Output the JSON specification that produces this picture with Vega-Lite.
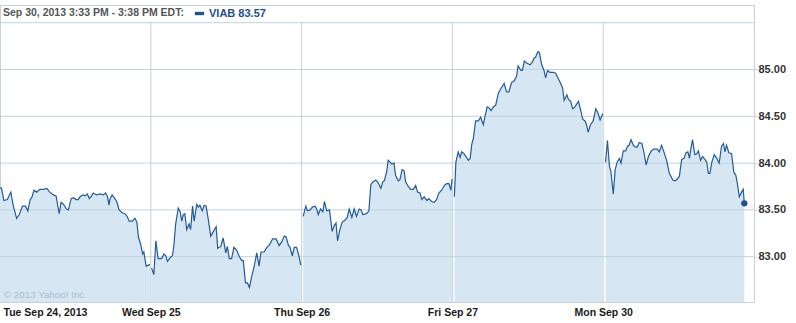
{
  "$schema": "https://vega.github.io/schema/vega-lite/v6.json",
  "width": 754,
  "height": 297,
  "autosize": {"type": "none"},
  "padding": {"left": 0, "top": 5, "right": 42, "bottom": 21},
  "background": "white",
  "config": {"view": {"stroke": "#c5d1db", "strokeWidth": 1}, "font": "Liberation Sans"},
  "datasets": {
    "gx": [{"t": 390}, {"t": 780}, {"t": 1170}, {"t": 1560}],
    "gy": [{"p": 83}, {"p": 83.5}, {"p": 84}, {"p": 84.5}, {"p": 85}, {"p": 85.5}],
    "px": [
      {"d":1,"t":0,"p":83.74},{"d":1,"t":4,"p":83.73},{"d":1,"t":10,"p":83.60},{"d":1,"t":19,"p":83.61},{"d":1,"t":28,"p":83.69},{"d":1,"t":34,"p":83.55},{"d":1,"t":43,"p":83.41},{"d":1,"t":50,"p":83.45},{"d":1,"t":58,"p":83.54},{"d":1,"t":66,"p":83.54},{"d":1,"t":72,"p":83.49},{"d":1,"t":78,"p":83.61},{"d":1,"t":82,"p":83.63},{"d":1,"t":88,"p":83.71},{"d":1,"t":95,"p":83.69},{"d":1,"t":103,"p":83.72},{"d":1,"t":112,"p":83.72},{"d":1,"t":121,"p":83.73},{"d":1,"t":129,"p":83.69},{"d":1,"t":138,"p":83.66},{"d":1,"t":145,"p":83.65},{"d":1,"t":153,"p":83.46},{"d":1,"t":158,"p":83.58},{"d":1,"t":164,"p":83.56},{"d":1,"t":172,"p":83.51},{"d":1,"t":177,"p":83.50},{"d":1,"t":184,"p":83.62},{"d":1,"t":190,"p":83.63},{"d":1,"t":197,"p":83.61},{"d":1,"t":202,"p":83.61},{"d":1,"t":207,"p":83.64},{"d":1,"t":214,"p":83.66},{"d":1,"t":220,"p":83.65},{"d":1,"t":226,"p":83.67},{"d":1,"t":231,"p":83.62},{"d":1,"t":237,"p":83.65},{"d":1,"t":241,"p":83.68},{"d":1,"t":250,"p":83.66},{"d":1,"t":259,"p":83.67},{"d":1,"t":267,"p":83.66},{"d":1,"t":273,"p":83.68},{"d":1,"t":278,"p":83.64},{"d":1,"t":282,"p":83.55},{"d":1,"t":284,"p":83.61},{"d":1,"t":290,"p":83.66},{"d":1,"t":297,"p":83.62},{"d":1,"t":302,"p":83.59},{"d":1,"t":308,"p":83.50},{"d":1,"t":316,"p":83.47},{"d":1,"t":323,"p":83.46},{"d":1,"t":329,"p":83.43},{"d":1,"t":334,"p":83.38},{"d":1,"t":342,"p":83.38},{"d":1,"t":349,"p":83.41},{"d":1,"t":354,"p":83.37},{"d":1,"t":358,"p":83.21},{"d":1,"t":364,"p":83.13},{"d":1,"t":369,"p":83.03},{"d":1,"t":372,"p":83.05},{"d":1,"t":378,"p":82.90},{"d":1,"t":384,"p":82.91},{"d":1,"t":388,"p":82.92},
      {"d":2,"t":392,"p":82.88},{"d":2,"t":398,"p":82.81},{"d":2,"t":403,"p":83.17},{"d":2,"t":409,"p":82.98},{"d":2,"t":418,"p":82.98},{"d":2,"t":424,"p":83.03},{"d":2,"t":429,"p":83.01},{"d":2,"t":433,"p":82.95},{"d":2,"t":440,"p":82.99},{"d":2,"t":446,"p":83.01},{"d":2,"t":450,"p":83.13},{"d":2,"t":454,"p":83.34},{"d":2,"t":461,"p":83.52},{"d":2,"t":466,"p":83.48},{"d":2,"t":470,"p":83.38},{"d":2,"t":474,"p":83.45},{"d":2,"t":478,"p":83.46},{"d":2,"t":483,"p":83.29},{"d":2,"t":489,"p":83.35},{"d":2,"t":493,"p":83.29},{"d":2,"t":498,"p":83.54},{"d":2,"t":502,"p":83.38},{"d":2,"t":509,"p":83.56},{"d":2,"t":513,"p":83.53},{"d":2,"t":517,"p":83.55},{"d":2,"t":523,"p":83.49},{"d":2,"t":528,"p":83.55},{"d":2,"t":533,"p":83.54},{"d":2,"t":539,"p":83.39},{"d":2,"t":545,"p":83.22},{"d":2,"t":552,"p":83.27},{"d":2,"t":559,"p":83.32},{"d":2,"t":563,"p":83.09},{"d":2,"t":571,"p":83.11},{"d":2,"t":577,"p":83.20},{"d":2,"t":584,"p":83.04},{"d":2,"t":588,"p":83.11},{"d":2,"t":593,"p":82.98},{"d":2,"t":599,"p":82.98},{"d":2,"t":605,"p":83.10},{"d":2,"t":612,"p":83.07},{"d":2,"t":619,"p":83.00},{"d":2,"t":625,"p":82.96},{"d":2,"t":629,"p":82.96},{"d":2,"t":635,"p":82.72},{"d":2,"t":640,"p":82.72},{"d":2,"t":645,"p":82.67},{"d":2,"t":651,"p":82.79},{"d":2,"t":657,"p":82.89},{"d":2,"t":664,"p":83.04},{"d":2,"t":670,"p":82.90},{"d":2,"t":675,"p":83.05},{"d":2,"t":683,"p":83.05},{"d":2,"t":690,"p":83.10},{"d":2,"t":696,"p":83.12},{"d":2,"t":705,"p":83.19},{"d":2,"t":714,"p":83.19},{"d":2,"t":722,"p":83.12},{"d":2,"t":729,"p":83.16},{"d":2,"t":735,"p":83.22},{"d":2,"t":740,"p":83.21},{"d":2,"t":746,"p":83.12},{"d":2,"t":750,"p":83.10},{"d":2,"t":756,"p":83.01},{"d":2,"t":761,"p":83.10},{"d":2,"t":767,"p":83.10},{"d":2,"t":773,"p":83.01},{"d":2,"t":778,"p":82.91},
      {"d":3,"t":784,"p":83.43},{"d":3,"t":791,"p":83.54},{"d":3,"t":795,"p":83.49},{"d":3,"t":802,"p":83.50},{"d":3,"t":808,"p":83.53},{"d":3,"t":815,"p":83.54},{"d":3,"t":819,"p":83.51},{"d":3,"t":823,"p":83.45},{"d":3,"t":829,"p":83.51},{"d":3,"t":835,"p":83.48},{"d":3,"t":839,"p":83.59},{"d":3,"t":845,"p":83.49},{"d":3,"t":852,"p":83.50},{"d":3,"t":859,"p":83.27},{"d":3,"t":864,"p":83.33},{"d":3,"t":869,"p":83.36},{"d":3,"t":873,"p":83.17},{"d":3,"t":879,"p":83.29},{"d":3,"t":885,"p":83.37},{"d":3,"t":892,"p":83.39},{"d":3,"t":898,"p":83.42},{"d":3,"t":903,"p":83.51},{"d":3,"t":910,"p":83.42},{"d":3,"t":916,"p":83.51},{"d":3,"t":922,"p":83.43},{"d":3,"t":929,"p":83.51},{"d":3,"t":934,"p":83.50},{"d":3,"t":938,"p":83.45},{"d":3,"t":948,"p":83.46},{"d":3,"t":954,"p":83.49},{"d":3,"t":959,"p":83.77},{"d":3,"t":965,"p":83.80},{"d":3,"t":972,"p":83.82},{"d":3,"t":978,"p":83.79},{"d":3,"t":985,"p":83.73},{"d":3,"t":990,"p":83.80},{"d":3,"t":994,"p":83.81},{"d":3,"t":1000,"p":83.91},{"d":3,"t":1004,"p":84.03},{"d":3,"t":1009,"p":84.01},{"d":3,"t":1013,"p":83.99},{"d":3,"t":1019,"p":84.00},{"d":3,"t":1023,"p":83.87},{"d":3,"t":1030,"p":83.81},{"d":3,"t":1034,"p":83.82},{"d":3,"t":1040,"p":83.93},{"d":3,"t":1045,"p":83.92},{"d":3,"t":1049,"p":83.80},{"d":3,"t":1056,"p":83.75},{"d":3,"t":1062,"p":83.72},{"d":3,"t":1069,"p":83.72},{"d":3,"t":1075,"p":83.76},{"d":3,"t":1080,"p":83.69},{"d":3,"t":1086,"p":83.68},{"d":3,"t":1091,"p":83.61},{"d":3,"t":1097,"p":83.64},{"d":3,"t":1104,"p":83.60},{"d":3,"t":1109,"p":83.62},{"d":3,"t":1116,"p":83.59},{"d":3,"t":1123,"p":83.58},{"d":3,"t":1129,"p":83.61},{"d":3,"t":1135,"p":83.68},{"d":3,"t":1142,"p":83.71},{"d":3,"t":1149,"p":83.76},{"d":3,"t":1155,"p":83.78},{"d":3,"t":1161,"p":83.78},{"d":3,"t":1166,"p":83.71},{"d":3,"t":1169,"p":83.83},
      {"d":4,"t":1175,"p":83.64},{"d":4,"t":1179,"p":84.01},{"d":4,"t":1185,"p":84.12},{"d":4,"t":1190,"p":84.06},{"d":4,"t":1194,"p":84.12},{"d":4,"t":1200,"p":84.10},{"d":4,"t":1205,"p":84.07},{"d":4,"t":1211,"p":84.03},{"d":4,"t":1216,"p":84.05},{"d":4,"t":1220,"p":84.20},{"d":4,"t":1224,"p":84.26},{"d":4,"t":1230,"p":84.45},{"d":4,"t":1237,"p":84.45},{"d":4,"t":1243,"p":84.49},{"d":4,"t":1250,"p":84.41},{"d":4,"t":1254,"p":84.49},{"d":4,"t":1260,"p":84.60},{"d":4,"t":1265,"p":84.59},{"d":4,"t":1270,"p":84.56},{"d":4,"t":1276,"p":84.60},{"d":4,"t":1282,"p":84.62},{"d":4,"t":1289,"p":84.75},{"d":4,"t":1296,"p":84.80},{"d":4,"t":1304,"p":84.85},{"d":4,"t":1310,"p":84.76},{"d":4,"t":1316,"p":84.76},{"d":4,"t":1323,"p":84.86},{"d":4,"t":1330,"p":84.88},{"d":4,"t":1336,"p":84.93},{"d":4,"t":1340,"p":85.04},{"d":4,"t":1347,"p":84.99},{"d":4,"t":1351,"p":84.99},{"d":4,"t":1356,"p":85.09},{"d":4,"t":1362,"p":85.07},{"d":4,"t":1371,"p":85.05},{"d":4,"t":1377,"p":85.08},{"d":4,"t":1381,"p":85.12},{"d":4,"t":1385,"p":85.13},{"d":4,"t":1391,"p":85.19},{"d":4,"t":1395,"p":85.18},{"d":4,"t":1401,"p":85.05},{"d":4,"t":1407,"p":84.99},{"d":4,"t":1411,"p":84.91},{"d":4,"t":1416,"p":84.99},{"d":4,"t":1422,"p":84.97},{"d":4,"t":1431,"p":84.97},{"d":4,"t":1437,"p":84.96},{"d":4,"t":1444,"p":84.90},{"d":4,"t":1450,"p":84.85},{"d":4,"t":1455,"p":84.80},{"d":4,"t":1459,"p":84.67},{"d":4,"t":1466,"p":84.73},{"d":4,"t":1470,"p":84.68},{"d":4,"t":1476,"p":84.66},{"d":4,"t":1481,"p":84.58},{"d":4,"t":1487,"p":84.60},{"d":4,"t":1496,"p":84.66},{"d":4,"t":1502,"p":84.56},{"d":4,"t":1507,"p":84.47},{"d":4,"t":1513,"p":84.45},{"d":4,"t":1517,"p":84.41},{"d":4,"t":1521,"p":84.33},{"d":4,"t":1527,"p":84.41},{"d":4,"t":1534,"p":84.45},{"d":4,"t":1541,"p":84.58},{"d":4,"t":1546,"p":84.54},{"d":4,"t":1552,"p":84.46},{"d":4,"t":1559,"p":84.53},
      {"d":5,"t":1566,"p":84.01},{"d":5,"t":1571,"p":84.24},{"d":5,"t":1576,"p":83.97},{"d":5,"t":1580,"p":83.91},{"d":5,"t":1586,"p":83.67},{"d":5,"t":1591,"p":83.93},{"d":5,"t":1596,"p":84.01},{"d":5,"t":1602,"p":84.05},{"d":5,"t":1606,"p":84.00},{"d":5,"t":1612,"p":84.13},{"d":5,"t":1618,"p":84.13},{"d":5,"t":1623,"p":84.18},{"d":5,"t":1627,"p":84.19},{"d":5,"t":1632,"p":84.25},{"d":5,"t":1638,"p":84.19},{"d":5,"t":1644,"p":84.17},{"d":5,"t":1648,"p":84.17},{"d":5,"t":1653,"p":84.22},{"d":5,"t":1660,"p":84.21},{"d":5,"t":1666,"p":84.10},{"d":5,"t":1671,"p":83.98},{"d":5,"t":1677,"p":84.07},{"d":5,"t":1684,"p":84.13},{"d":5,"t":1691,"p":84.15},{"d":5,"t":1700,"p":84.15},{"d":5,"t":1705,"p":84.12},{"d":5,"t":1711,"p":84.19},{"d":5,"t":1717,"p":84.12},{"d":5,"t":1724,"p":84.03},{"d":5,"t":1731,"p":83.89},{"d":5,"t":1740,"p":83.82},{"d":5,"t":1746,"p":83.81},{"d":5,"t":1752,"p":83.83},{"d":5,"t":1757,"p":83.86},{"d":5,"t":1763,"p":84.04},{"d":5,"t":1769,"p":84.05},{"d":5,"t":1774,"p":84.11},{"d":5,"t":1779,"p":84.12},{"d":5,"t":1783,"p":84.05},{"d":5,"t":1787,"p":84.16},{"d":5,"t":1791,"p":84.25},{"d":5,"t":1797,"p":84.09},{"d":5,"t":1802,"p":84.10},{"d":5,"t":1806,"p":84.13},{"d":5,"t":1812,"p":84.03},{"d":5,"t":1817,"p":84.07},{"d":5,"t":1823,"p":84.04},{"d":5,"t":1828,"p":84.01},{"d":5,"t":1832,"p":83.89},{"d":5,"t":1836,"p":83.89},{"d":5,"t":1841,"p":84.01},{"d":5,"t":1847,"p":84.09},{"d":5,"t":1854,"p":84.05},{"d":5,"t":1860,"p":84.00},{"d":5,"t":1866,"p":84.18},{"d":5,"t":1871,"p":84.21},{"d":5,"t":1875,"p":84.12},{"d":5,"t":1879,"p":84.19},{"d":5,"t":1885,"p":84.11},{"d":5,"t":1892,"p":84.10},{"d":5,"t":1898,"p":83.90},{"d":5,"t":1903,"p":83.87},{"d":5,"t":1907,"p":83.78},{"d":5,"t":1912,"p":83.64},{"d":5,"t":1918,"p":83.69},{"d":5,"t":1922,"p":83.72},{"d":5,"t":1925,"p":83.57}
    ]
  },
  "layer": [
    {
      "data": {"name": "gx"},
      "mark": {"type": "rule", "color": "#c5d1db", "strokeWidth": 1},
      "encoding": {
        "x": {"field": "t", "type": "quantitative", "scale": {"domain": [0, 1950], "nice": false, "zero": false}},
        "y": {"datum": 82.516, "type": "quantitative", "scale": {"domain": [82.516, 85.689], "nice": false, "zero": false}},
        "y2": {"datum": 85.5}
      }
    },
    {
      "data": {"name": "px"},
      "mark": {"type": "area", "color": "#d6e6f2"},
      "encoding": {
        "x": {
          "field": "t", "type": "quantitative",
          "scale": {"domain": [0, 1950], "nice": false, "zero": false},
          "axis": {
            "values": [0, 390, 780, 1170, 1560],
            "labelExpr": "['Tue Sep 24, 2013','Wed Sep 25','Thu Sep 26','Fri Sep 27','Mon Sep 30'][round(datum.value/390)]",
            "grid": false, "domain": false, "ticks": false, "labelFlush": true, "labelFlushOffset": -3, "labelOverlap": false,
            "labelPadding": 5, "labelFont": "Liberation Sans", "labelFontSize": 10.5, "labelFontWeight": "bold",
            "labelColor": "#1a1a1a", "title": null
          }
        },
        "y": {
          "field": "p", "type": "quantitative",
          "scale": {"domain": [82.516, 85.689], "nice": false, "zero": false},
          "axis": {
            "orient": "right", "values": [83, 83.5, 84, 84.5, 85], "format": ".2f",
            "grid": false, "domain": false, "ticks": true, "tickSize": 3, "tickColor": "#c5d1db",
            "labelPadding": 1, "labelFont": "Liberation Sans", "labelFontSize": 11, "labelFontWeight": "bold",
            "labelColor": "#333333", "title": null
          }
        },
        "y2": {"datum": 82.516},
        "detail": {"field": "d"}
      }
    },
    {
      "data": {"name": "gy"},
      "mark": {"type": "rule", "color": "#c2d2de", "strokeWidth": 1},
      "encoding": {
        "y": {"field": "p", "type": "quantitative", "scale": {"domain": [82.516, 85.689], "nice": false, "zero": false}}
      }
    },
    {
      "data": {"name": "px"},
      "mark": {"type": "line", "color": "#245b98", "strokeWidth": 1.2},
      "encoding": {
        "x": {"field": "t", "type": "quantitative", "scale": {"domain": [0, 1950], "nice": false, "zero": false}},
        "y": {"field": "p", "type": "quantitative", "scale": {"domain": [82.516, 85.689], "nice": false, "zero": false}},
        "detail": {"field": "d"}
      }
    },
    {
      "data": {"name": "px"},
      "transform": [{"filter": "datum.t == 1925"}],
      "mark": {"type": "point", "filled": true, "size": 40, "opacity": 1},
      "encoding": {
        "x": {"field": "t", "type": "quantitative", "scale": {"domain": [0, 1950], "nice": false, "zero": false}},
        "y": {"field": "p", "type": "quantitative", "scale": {"domain": [82.516, 85.689], "nice": false, "zero": false}},
        "color": {
          "datum": "VIAB 83.57",
          "scale": {"range": ["#1d5393"]},
          "legend": {
            "orient": "top-left", "offset": 3, "padding": 0,
            "title": "Sep 30, 2013 3:33 PM - 3:38 PM EDT:", "titleOrient": "left", "titleLimit": 400,
            "titleFont": "Liberation Sans", "titleFontSize": 10.5, "titleFontWeight": "bold",
            "titleColor": "#555555", "titlePadding": 10,
            "labelFont": "Liberation Sans", "labelFontSize": 11, "labelFontWeight": "bold",
            "labelColor": "#1d4f8c", "labelOffset": 4, "labelLimit": 200,
            "symbolType": "M-1,-0.36H1V0.36H-1Z", "symbolSize": 86, "symbolStrokeWidth": 0,
            "symbolFillColor": "#1d5393"
          }
        }
      }
    },
    {
      "data": {"values": [{"label": "© 2013 Yahoo! Inc."}]},
      "mark": {"type": "text", "align": "left", "baseline": "alphabetic", "font": "Liberation Sans", "fontSize": 9.8, "color": "#a9bdcc"},
      "encoding": {
        "x": {"datum": 10, "type": "quantitative", "scale": {"domain": [0, 1950], "nice": false, "zero": false}},
        "y": {"datum": 82.559, "type": "quantitative", "scale": {"domain": [82.516, 85.689], "nice": false, "zero": false}},
        "text": {"field": "label"}
      }
    }
  ]
}
